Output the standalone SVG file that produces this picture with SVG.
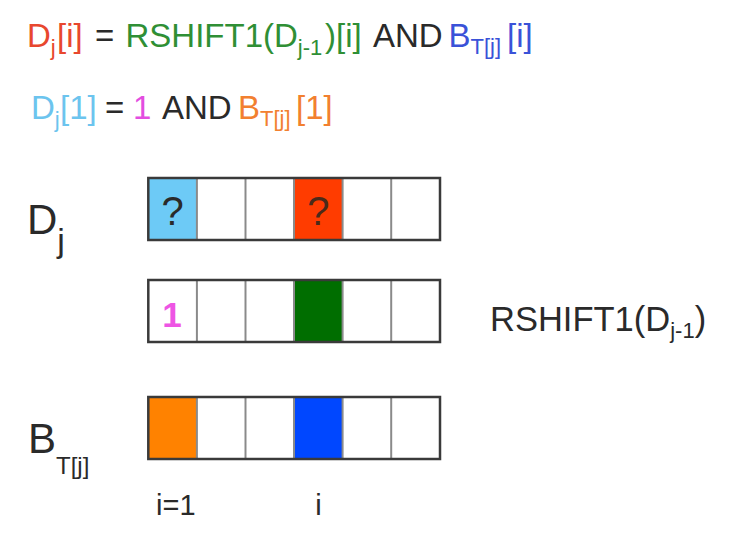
<svg xmlns="http://www.w3.org/2000/svg" width="743" height="544" viewBox="0 0 743 544">
<style>
text{font-family:"Liberation Sans",Arial,sans-serif;}
.f{font-size:33px;}
.s{font-size:22px;}
.dk{fill:#2a2a2a;}
.red{fill:#e8472e;}
.grn{fill:#2f8f35;}
.blu{fill:#3a52d8;}
.lb{fill:#6cc4ee;}
.mag{fill:#e34de0;}
.org{fill:#f28030;}
.div{stroke:#8a8a8a;stroke-width:2;}
.box{fill:none;stroke:#3a3a3a;stroke-width:2.5;}
.lbl{font-size:42px;fill:#2a2a2a;}
</style>
<rect width="743" height="544" fill="#ffffff"/>

<g id="formula1" class="f">
  <text x="27" y="47" class="red">D<tspan class="s" dy="8">j</tspan></text>
  <text x="57" y="47" class="red">[i]</text>
  <text x="95" y="47" class="dk">=</text>
  <text x="125.5" y="47" class="grn">RSHIFT1(D<tspan class="s" dy="8">j-1</tspan></text>
  <text x="325" y="47" class="grn">)[i]</text>
  <text x="373" y="47" class="dk">AND</text>
  <text x="448.5" y="47" class="blu">B<tspan class="s" dy="7">T[j]</tspan></text>
  <text x="507" y="47" class="blu">[i]</text>
</g>

<g id="formula2" class="f">
  <text x="31" y="119" class="lb">D<tspan class="s" dy="8">j</tspan></text>
  <text x="60" y="119" class="lb">[1]</text>
  <text x="105" y="119" class="dk">=</text>
  <text x="133" y="119" class="mag">1</text>
  <text x="162" y="119" class="dk">AND</text>
  <text x="238" y="119" class="org">B<tspan class="s" dy="7">T[j]</tspan></text>
  <text x="296" y="119" class="org">[1]</text>
</g>

<g id="label-Dj">
  <text x="27" y="234" class="lbl">D<tspan font-size="34" dy="18">j</tspan></text>
</g>
<g id="label-BTj">
  <text x="28" y="453" class="lbl">B<tspan font-size="24" dy="21">T[j]</tspan></text>
</g>
<g id="label-rshift">
  <text x="490" y="331" font-size="34.5" fill="#2a2a2a">RSHIFT1(D<tspan font-size="22" dy="7">j-1</tspan><tspan dy="-7">)</tspan></text>
</g>

<g id="row-Dj">
  <rect x="148.3" y="178" width="48.6" height="62" fill="#6dcaf6"/>
  <rect x="294" y="178" width="48.6" height="62" fill="#ff3c00"/>
  <g class="div">
    <line x1="196.9" y1="178" x2="196.9" y2="240"/>
    <line x1="245.5" y1="178" x2="245.5" y2="240"/>
    <line x1="294" y1="178" x2="294" y2="240"/>
    <line x1="342.6" y1="178" x2="342.6" y2="240"/>
    <line x1="391.2" y1="178" x2="391.2" y2="240"/>
  </g>
  <rect x="148.3" y="178" width="291.7" height="62" class="box"/>
  <text x="172.6" y="225" font-size="40" text-anchor="middle" fill="#2a2a2a">?</text>
  <text x="318.3" y="225" font-size="40" text-anchor="middle" fill="#4a2a1a">?</text>
</g>

<g id="row-rshift">
  <rect x="294" y="280" width="48.6" height="62" fill="#006e00"/>
  <g class="div">
    <line x1="196.9" y1="280" x2="196.9" y2="342"/>
    <line x1="245.5" y1="280" x2="245.5" y2="342"/>
    <line x1="294" y1="280" x2="294" y2="342"/>
    <line x1="342.6" y1="280" x2="342.6" y2="342"/>
    <line x1="391.2" y1="280" x2="391.2" y2="342"/>
  </g>
  <rect x="148.3" y="280" width="291.7" height="62" class="box"/>
  <text x="172" y="327" font-size="35" font-weight="bold" text-anchor="middle" fill="#ee55e4">1</text>
</g>

<g id="row-BTj">
  <rect x="148.3" y="397" width="48.6" height="62" fill="#ff8200"/>
  <rect x="294" y="397" width="48.6" height="62" fill="#0047ff"/>
  <g class="div">
    <line x1="196.9" y1="397" x2="196.9" y2="459"/>
    <line x1="245.5" y1="397" x2="245.5" y2="459"/>
    <line x1="294" y1="397" x2="294" y2="459"/>
    <line x1="342.6" y1="397" x2="342.6" y2="459"/>
    <line x1="391.2" y1="397" x2="391.2" y2="459"/>
  </g>
  <rect x="148.3" y="397" width="291.7" height="62" class="box"/>
</g>

<g id="index-labels">
  <text x="156" y="515" font-size="29" fill="#2a2a2a">i=1</text>
  <text x="318.5" y="515" font-size="29" text-anchor="middle" fill="#2a2a2a">i</text>
</g>
</svg>
